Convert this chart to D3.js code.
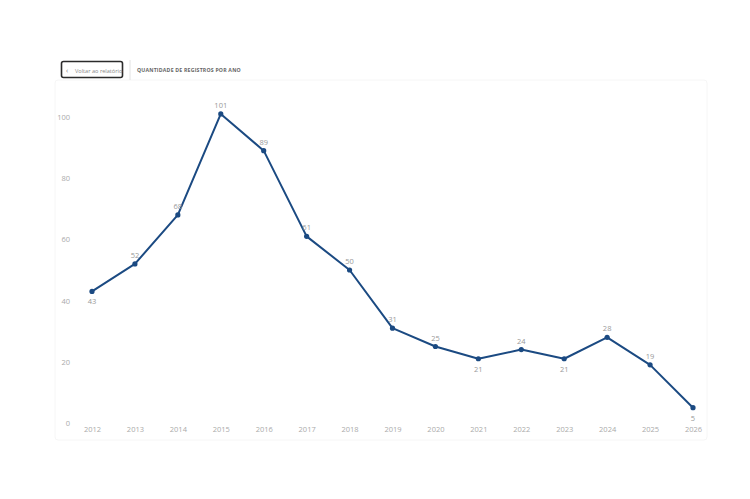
<!DOCTYPE html>
<html>
<head>
<meta charset="utf-8">
<script src="https://cdn.jsdelivr.net/npm/d3@7"></script>
<style>
    body { margin: 0; background: #fff; font-family: "Open Sans", "Noto Sans", sans-serif; }
    svg { display: block; }
</style>
</head>
<body>
<svg id="chart"></svg>
<script>
// chart data
const years = [2012, 2013, 2014, 2015, 2016, 2017, 2018, 2019, 2020, 2021, 2022, 2023, 2024, 2025, 2026];
const counts = [43, 52, 68, 101, 89, 61, 50, 31, 25, 21, 24, 21, 28, 19, 5];
// where each value label sits relative to its point
const labelBelow = [true, false, false, false, false, false, false, false, false, true, false, true, false, false, true];
const yTicks = [0, 20, 40, 60, 80, 100];
const titleText = 'QUANTIDADE DE REGISTROS POR ANO';
const backText = 'Voltar ao relatório';

const width = 750, height = 499;

const svg = d3.select('#chart')
    .attr('width', width)
    .attr('height', height);

// faint card behind the visual
svg.append('rect')
    .attr('x', 55).attr('y', 80)
    .attr('width', 652).attr('height', 360)
    .attr('rx', 3)
    .attr('fill', '#fff')
    .attr('stroke', '#f6f6f6')
    .attr('stroke-width', 1);

// header: back button + title
const header = svg.append('g');
header.append('rect')
    .attr('x', 61.5).attr('y', 61.5)
    .attr('width', 61).attr('height', 16)
    .attr('rx', 2)
    .attr('fill', '#fff')
    .attr('stroke', '#2b2b2b')
    .attr('stroke-width', 1.6);
header.append('text')
    .attr('x', 66).attr('y', 72.5)
    .attr('font-size', 7)
    .attr('fill', '#777')
    .text('‹');
header.append('text')
    .attr('x', 75).attr('y', 72.5)
    .attr('font-size', 5.6)
    .attr('fill', '#888')
    .text(backText);
header.append('line')
    .attr('x1', 130).attr('x2', 130)
    .attr('y1', 60).attr('y2', 80)
    .attr('stroke', '#e2e2e2');
header.append('text')
    .attr('x', 137).attr('y', 72)
    .attr('font-size', 5.2)
    .attr('font-weight', 700)
    .attr('letter-spacing', 0.2)
    .attr('fill', '#666')
    .text(titleText);

// y: 0 at 423, 100 at 117
const yScale = d3.scaleLinear().domain([0, 100]).range([423, 117]);
const xScale = d3.scalePoint().domain(years).range([92, 693]);

// y axis labels
const yAxis = d3.axisLeft(yScale).tickValues(yTicks).tickSize(0).tickPadding(0);
svg.append('g')
    .attr('class', 'axis y-axis')
    .attr('transform', 'translate(70,0)')
    .call(yAxis)
    .call(g => g.select('.domain').remove())
    .call(g => g.selectAll('text')
        .attr('font-family', '"Open Sans", sans-serif')
        .attr('font-size', 7.5)
        .attr('fill', '#aaa'));

// x axis labels
const xAxis = d3.axisBottom(xScale).tickSize(0).tickPadding(0);
svg.append('g')
    .attr('class', 'axis x-axis')
    .attr('transform', 'translate(0,427)')
    .call(xAxis)
    .call(g => g.select('.domain').remove())
    .call(g => g.selectAll('text')
        .attr('font-family', '"Open Sans", sans-serif')
        .attr('font-size', 7.5)
        .attr('fill', '#aaa'));

const data = years.map((y, i) => ({ year: y, value: counts[i], below: labelBelow[i] }));

// line
const line = d3.line()
    .x(d => xScale(d.year))
    .y(d => yScale(d.value));

svg.append('path')
    .datum(data)
    .attr('fill', 'none')
    .attr('stroke', '#1b4a82')
    .attr('stroke-width', 2)
    .attr('stroke-linejoin', 'round')
    .attr('d', line);

// markers
svg.selectAll('.dot')
    .data(data)
    .join('circle')
    .attr('class', 'dot')
    .attr('cx', d => xScale(d.year))
    .attr('cy', d => yScale(d.value))
    .attr('r', 2.6)
    .attr('fill', '#1b4a82');

// value labels
svg.selectAll('.val')
    .data(data)
    .join('text')
    .attr('class', 'val')
    .attr('x', d => xScale(d.year))
    .attr('y', d => yScale(d.value) + (d.below ? 13 : -6))
    .attr('text-anchor', 'middle')
    .attr('font-family', '"Open Sans", sans-serif')
    .attr('font-size', 7.5)
    .attr('fill', '#999')
    .text(d => d.value);
</script>
</body>
</html>
